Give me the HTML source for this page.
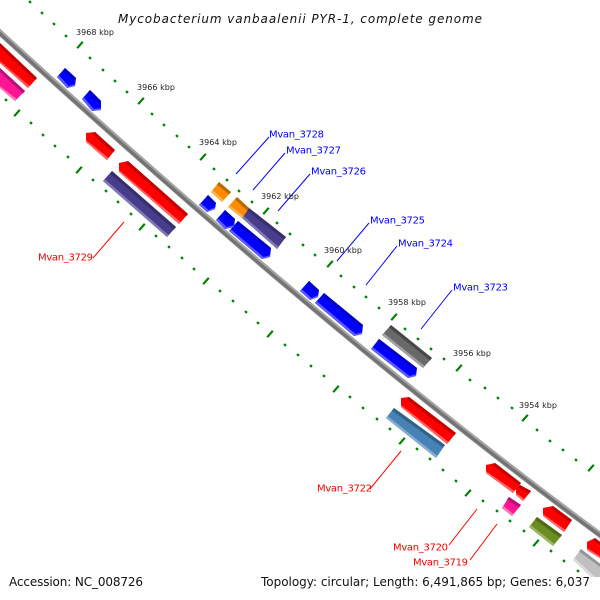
<!DOCTYPE html>
<html><head><meta charset="utf-8"><style>
html,body{margin:0;padding:0;background:#fff}
svg{display:block}
text{font-family:"DejaVu Sans","Liberation Sans",sans-serif}
.t{font-size:8px;fill:#222}
.b{font-size:10px;fill:#0000ff}
.r{font-size:10px;fill:#ff0000}
.f{font-size:12px;fill:#111}
.mi{stroke:#008000;stroke-width:2.6;fill:none}
.ma{stroke:#008000;stroke-width:2.2;fill:none}
</style></head><body>
<svg width="600" height="600" viewBox="0 0 600 600" xmlns="http://www.w3.org/2000/svg">
<rect width="600" height="600" fill="#fff"/>

<!-- minor ticks outer and inner -->
<path class="mi" d="M29.2 2.8l1.6-1.7M41.2 13.8l1.6-1.7M53.2 24.8l1.6-1.7M65.2 36.8l1.6-1.7M89.2 58.8l1.6-1.7M102.2 70.8l1.6-1.7M114.2 81.8l1.6-1.7M126.2 92.8l1.6-1.7M151.2 114.8l1.6-1.7M163.2 125.8l1.6-1.7M176.2 136.8l1.6-1.7M188.2 147.8l1.6-1.7M213.2 169.8l1.6-1.7M226.2 180.8l1.6-1.7M238.2 191.8l1.6-1.7M251.2 202.8l1.6-1.7M276.2 223.8l1.6-1.7M289.2 234.8l1.6-1.7M302.2 245.8l1.6-1.7M314.2 255.8l1.6-1.7M340.2 276.8l1.6-1.7M353.2 287.8l1.6-1.7M365.2 297.8l1.6-1.7M378.2 308.8l1.6-1.7M404.2 329.8l1.6-1.7M417.2 339.8l1.6-1.7M430.2 349.8l1.6-1.7M443.2 359.8l1.6-1.7M469.2 380.8l1.6-1.7M484.2 388.8l1.6-1.7M497.2 398.8l1.6-1.7M511.2 408.8l1.6-1.7M536.2 430.8l1.6-1.7M549.2 441.8l1.6-1.7M562.2 450.8l1.6-1.7M575.2 460.8l1.6-1.7"/>
<path class="mi" d="M5.2 100.8l1.6-1.7M30.2 123.8l1.6-1.7M42.2 135.8l1.6-1.7M54.2 146.8l1.6-1.7M67.2 157.8l1.6-1.7M92.2 180.8l1.6-1.7M105.2 191.8l1.6-1.7M117.2 202.8l1.6-1.7M130.2 214.8l1.6-1.7M155.2 236.8l1.6-1.7M168.2 247.8l1.6-1.7M181.2 258.8l1.6-1.7M193.2 269.8l1.6-1.7M219.2 291.8l1.6-1.7M232.2 301.8l1.6-1.7M245.2 312.8l1.6-1.7M257.2 323.8l1.6-1.7M284.2 345.8l1.6-1.7M297.2 355.8l1.6-1.7M310.2 366.8l1.6-1.7M323.2 376.8l1.6-1.7M349.2 397.8l1.6-1.7M362.2 408.8l1.6-1.7M376.2 419.8l1.6-1.7M389.2 429.8l1.6-1.7M416.2 449.8l1.6-1.7M429.2 459.8l1.6-1.7M442.2 470.8l1.6-1.7M455.2 481.8l1.6-1.7M482.2 501.8l1.6-1.7M496.2 511.8l1.6-1.7M509.2 521.8l1.6-1.7M523.2 531.8l1.6-1.7M550.2 551.8l1.6-1.7M563.2 561.8l1.6-1.7M577.2 571.8l1.6-1.7"/>
<!-- major ticks -->
<path class="ma" d="M77.2 48.2l5.6-6.4M138.2 104.2l5.6-6.4M200.2 160.2l5.6-6.4M263.2 214.2l5.6-6.4M327.2 267.2l5.6-6.4M391.2 320.2l5.6-6.4M456.2 371.2l5.6-6.4M522.2 421.2l5.6-6.4M588.2 471.2l5.6-6.4"/>
<path class="ma" d="M14.2 116.2l5.6-6.4M76.2 173.2l5.6-6.4M139.2 230.2l5.6-6.4M203.2 284.2l5.6-6.4M267.2 337.2l5.6-6.4M333.2 392.2l5.6-6.4M399.2 444.2l5.6-6.4M465.2 496.2l5.6-6.4M533.2 546.2l5.6-6.4"/>

<!-- backbone -->
<path d="M-3 30 C200 216 400 387 603 537" fill="none" stroke="#a4a4a4" stroke-width="6"/>
<path d="M-3.500 30.500 C199.500 216.500 399.500 387.500 602.500 537.500" fill="none" stroke="#737373" stroke-width="3.200"/>

<!-- red top-left -->
<polygon points="0,43 37,78 28,88 0,63" fill="#ff0000"/>
<polygon points="0,43 37,78 35,80.5 0,47" fill="#c40000"/>
<polygon points="0,61 29.600,86 28,88 0,63" fill="#ff5a5a"/>
<!-- pink top-left -->
<polygon points="0,68 25,91 15,101 0,88" fill="#ff1493"/>
<polygon points="0,68 25,91 23,93.5 0,72" fill="#b81078"/>
<polygon points="0,86 16.600,99 15,101 0,88" fill="#ff70b8"/>

<!-- blue genes -->
<g fill="#0000ff">
<polygon points="57,77 65,68 76,78 75,86 67,88"/>
<polygon points="82,99 90,90 101,101 101,110 92,111"/>
<polygon points="199,205 208,195 216,203 215,209 207,212"/>
<polygon points="216,220 225,210 235,219 234,227 225,229"/>
<polygon points="229,231 238,221 271,248 270,257 262,259"/>
<polygon points="300,291 309,281 319,290 318,297 310,300"/>
<polygon points="315,303 324,293 363,325 362,334 354,336"/>
<polygon points="371,349 379,339 417,368 416,376 408,378"/>
</g>
<g fill="#0000c4">
<polygon points="65,68 76,78 74,80.5 63,70.5"/>
<polygon points="90,90 101,101 99,103.5 88,92.5"/>
<polygon points="208,195 216,203 214,205.5 206,197.5"/>
<polygon points="225,210 235,219 233,221.5 223,212.5"/>
<polygon points="238,221 271,248 269,250.5 236,223.5"/>
<polygon points="309,281 319,290 317,292.5 307,283.5"/>
<polygon points="324,293 363,325 361,327.5 322,295.5"/>
<polygon points="379,339 417,368 415,370.5 377,341.5"/>
</g>
<g fill="#5a5aff">
<polygon points="57,77 67,88 75,86 75,84.300 68.600,86 58.600,75"/>
<polygon points="82,99 92,111 101,110 101,108.300 93.600,109 83.600,97"/>
<polygon points="199,205 207,212 215,209 215,207.300 208.600,210 200.600,203"/>
<polygon points="216,220 225,229 234,227 234,225.300 226.600,227 217.600,218"/>
<polygon points="229,231 262,259 270,257 270,255.300 263.600,257 230.600,229"/>
<polygon points="300,291 310,300 318,297 318,295.300 311.600,298 301.600,289"/>
<polygon points="315,303 354,336 362,334 362,332.300 355.600,334 316.600,301"/>
<polygon points="371,349 408,378 416,376 416,374.300 409.600,376 372.600,347"/>
</g>

<!-- red genes -->
<g fill="#ff0000">
<polygon points="86,133 95,132 115,150 107,160 86,142"/>
<polygon points="119,163 128,161 188,214 179,224 119,172"/>
<polygon points="401,398 409,397 456,433 447,444 401,407"/>
<polygon points="486,465 495,463 521,483 513,493 486,473"/>
<polygon points="516,488 520,485 531,491 523,501 516,495"/>
<polygon points="543,508 553,506 572,520 564,532 543,516"/>
<polygon points="587,542 595,538 603,544 603,560 587,550"/>
</g>
<g fill="#c40000">
<polygon points="95,132 115,150 113,152.500 93,134.500"/>
<polygon points="128,161 188,214 186,216.500 126,163.500"/>
<polygon points="409,397 456,433 454,435.500 407,399.500"/>
<polygon points="495,463 521,483 519,485.500 493,465.500"/>
<polygon points="520,485 531,491 529,493.500 518,487.500"/>
<polygon points="553,506 572,520 570,522.500 551,508.500"/>
<polygon points="595,538 603,544 603,547 593,540.500"/>
</g>
<g fill="#ff6060">
<polygon points="86,142 107,160 108.600,158 86,140"/>
<polygon points="119,172 179,224 180.600,222 119,170"/>
<polygon points="401,407 447,444 448.600,442 401,405"/>
<polygon points="486,473 513,493 514.600,491 486,471"/>
<polygon points="516,495 523,501 524.600,499 516,493"/>
<polygon points="543,516 564,532 565.600,530 543,514"/>
<polygon points="587,550 603,560 603,558 587,548"/>
</g>

<!-- purple -->
<polygon points="103,181 112,171 176,227 167,237" fill="#483d8b"/>
<polygon points="112,171 176,227 174,229.500 110,173.500" fill="#372e6c"/>
<polygon points="103,181 167,237 168.600,235 104.600,179" fill="#8078b4"/>
<polygon points="242,218 249,208 286,237 277,249" fill="#483d8b"/>
<polygon points="249,208 286,237 284,239.500 247,210.500" fill="#372e6c"/>
<polygon points="242,218 277,249 278.600,247 243.600,216" fill="#8078b4"/>

<!-- orange -->
<polygon points="211,192 219,182 231,192 222,202" fill="#ff8c00"/>
<polygon points="219,182 231,192 229,194.500 217,184.500" fill="#b86a00"/>
<polygon points="211,192 222,202 223.600,200 212.600,190" fill="#ffb050"/>
<polygon points="228,207 237,197 249,208 242,218" fill="#ff8c00"/>
<polygon points="237,197 249,208 247,210.500 235,199.500" fill="#b86a00"/>
<polygon points="228,207 242,218 243.600,216 229.600,205" fill="#ffb050"/>

<!-- grey -->
<polygon points="382,335 391,325 432,358 423,368" fill="#696969"/>
<polygon points="391,325 432,358 430,360.500 389,327.500" fill="#484848"/>
<polygon points="382,335 423,368 424.600,366 383.600,333" fill="#a0a0a0"/>

<!-- steel blue -->
<polygon points="386,418 394,408 445,445 436,458" fill="#4682b4"/>
<polygon points="394,408 445,445 443,447.500 392,410.500" fill="#336288"/>
<polygon points="386,418 436,458 437.600,456 387.600,416" fill="#84acd0"/>

<!-- magenta -->
<polygon points="502,508 509,497 521,505 512,516" fill="#ff1493"/>
<polygon points="509,497 521,505 519,507.500 507,499.500" fill="#b81078"/>
<polygon points="502,508 512,516 513.600,514 503.600,506" fill="#ff70b8"/>

<!-- olive -->
<polygon points="529,527 537,517 562,535 553,546" fill="#6b8e23"/>
<polygon points="537,517 562,535 560,537.500 535,519.500" fill="#50691a"/>
<polygon points="529,527 553,546 554.600,544 530.600,525" fill="#9cb464"/>

<!-- silver -->
<polygon points="573,560 581,549 603,566 603,577 591,577" fill="#c0c0c0"/>
<polygon points="581,549 603,566 603,569 579,551.500" fill="#949494"/>
<polygon points="573,560 591,577 595,577 574.600,558" fill="#dcdcdc"/>

<!-- leaders -->
<g stroke="#0000ff" stroke-width="1" fill="none">
<line x1="269" y1="137" x2="236" y2="174"/>
<line x1="285" y1="153" x2="253" y2="190"/>
<line x1="310" y1="174" x2="278" y2="211"/>
<line x1="369" y1="223" x2="337" y2="261"/>
<line x1="397" y1="246" x2="366" y2="285"/>
<line x1="452" y1="290" x2="421" y2="329"/>
</g>
<g stroke="#ff0000" stroke-width="1" fill="none">
<line x1="124" y1="222" x2="93" y2="258"/>
<line x1="401" y1="451" x2="370" y2="489"/>
<line x1="477" y1="509" x2="449" y2="545"/>
<line x1="497" y1="524" x2="470" y2="560"/>
</g>

<!-- tick labels -->
<text class="t" x="76" y="35" textLength="38">3968 kbp</text>
<text class="t" x="137" y="90" textLength="38">3966 kbp</text>
<text class="t" x="199" y="145" textLength="38">3964 kbp</text>
<text class="t" x="261" y="199" textLength="38">3962 kbp</text>
<text class="t" x="324" y="253" textLength="38">3960 kbp</text>
<text class="t" x="388" y="305" textLength="38">3958 kbp</text>
<text class="t" x="453" y="356" textLength="38">3956 kbp</text>
<text class="t" x="519" y="408" textLength="38">3954 kbp</text>

<!-- gene labels -->
<text class="b" x="269" y="137.500" textLength="55">Mvan_3728</text>
<text class="b" x="286" y="153.500" textLength="55">Mvan_3727</text>
<text class="b" x="311" y="174.500" textLength="55">Mvan_3726</text>
<text class="b" x="370" y="223.500" textLength="55">Mvan_3725</text>
<text class="b" x="398" y="246.500" textLength="55">Mvan_3724</text>
<text class="b" x="453" y="290.500" textLength="55">Mvan_3723</text>
<text class="r" x="38" y="260.500" textLength="55">Mvan_3729</text>
<text class="r" x="317" y="491.500" textLength="55">Mvan_3722</text>
<text class="r" x="393" y="550.500" textLength="55">Mvan_3720</text>
<text class="r" x="413" y="565.500" textLength="55">Mvan_3719</text>

<!-- title and footer -->
<text x="118" y="23" font-size="12" font-style="italic" fill="#111" textLength="364">Mycobacterium vanbaalenii PYR-1, complete genome</text>
<text class="f" x="9" y="586" textLength="134">Accession: NC_008726</text>
<text class="f" x="261" y="586" textLength="329">Topology: circular; Length: 6,491,865 bp; Genes: 6,037</text>
</svg>
</body></html>
